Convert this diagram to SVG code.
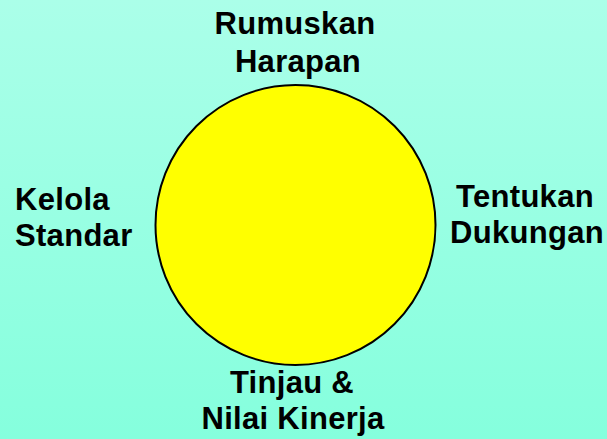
<svg xmlns="http://www.w3.org/2000/svg" width="607" height="439" viewBox="0 0 607 439">
  <defs>
    <linearGradient id="bg" x1="0" y1="0" x2="0" y2="1">
      <stop offset="0" stop-color="#ABFFE9"/>
      <stop offset="1" stop-color="#85FFDD"/>
    </linearGradient>
  </defs>
  <style>
    .lbl { font-family: "Liberation Sans", Arial, sans-serif; font-weight: bold; font-size: 31px; letter-spacing: 0.3px; fill: #000; }
    .mid { text-anchor: middle; }
  </style>
  <rect x="0" y="0" width="607" height="439" fill="url(#bg)"/>
  <g id="connectors"></g>
  <g id="circle">
    <circle cx="295.5" cy="225" r="140" fill="#FFFF00" stroke="#000" stroke-width="2"/>
  </g>
  <g id="rumuskan-harapan">
    <text class="lbl mid" x="295" y="34">Rumuskan</text>
    <text class="lbl mid" x="298" y="72">Harapan</text>
  </g>
  <g id="kelola-standar">
    <text class="lbl" x="15" y="210">Kelola</text>
    <text class="lbl" x="15" y="246">Standar</text>
  </g>
  <g id="tentukan-dukungan">
    <text class="lbl mid" x="525" y="207">Tentukan</text>
    <text class="lbl mid" x="527" y="243">Dukungan</text>
  </g>
  <g id="tinjau-nilai">
    <text class="lbl mid" x="292" y="393">Tinjau &amp;</text>
    <text class="lbl mid" x="293" y="429">Nilai Kinerja</text>
  </g>
</svg>
